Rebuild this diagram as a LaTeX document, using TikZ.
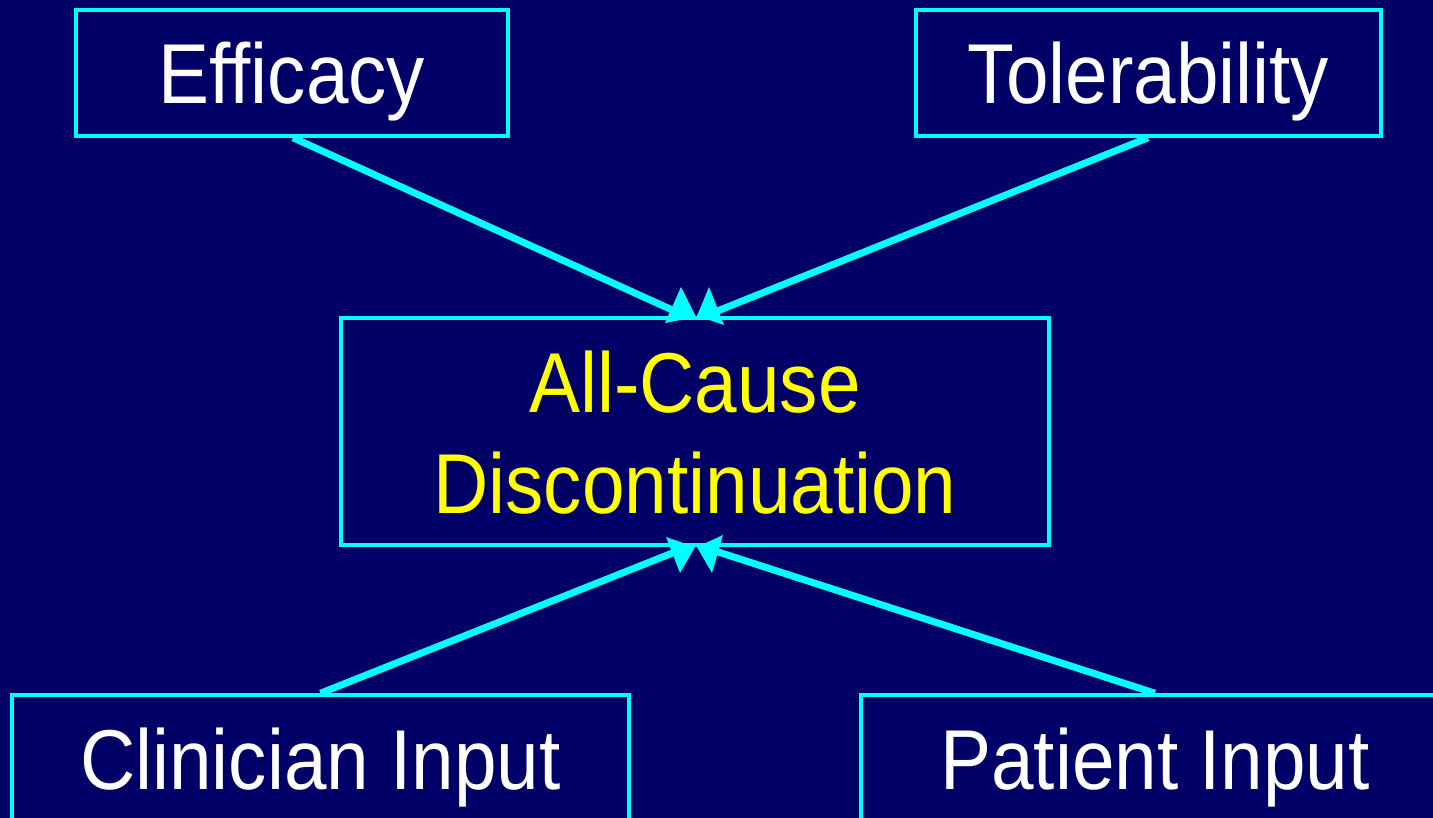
\documentclass[tikz,border=0pt]{standalone}
\usepackage{fontspec}
\setmainfont{Liberation Sans}[FakeStretch=0.9]
\definecolor{navy}{RGB}{0,0,102}
\definecolor{cyanl}{RGB}{0,255,255}
\definecolor{yell}{RGB}{255,255,0}
\begin{document}
\begin{tikzpicture}[x=1pt,y=-1pt,
  box/.style={draw=cyanl,line width=3.5pt,inner sep=0pt,text=white,
    font=\fontsize{85}{101}\selectfont,text height=61pt,text depth=0pt},
  link/.style={cyanl,line width=7pt},
  tipfill/.style={fill=cyanl}]
\fill[navy] (0,0) rectangle (1433,818);
\useasboundingbox (0,0) rectangle (1433,818);
\clip (0,0) rectangle (1433,818);
\node[box,minimum width=432,minimum height=126] (eff) at (292,73) {Efficacy};
\node[box,minimum width=465,minimum height=126] (tol) at (1148.5,73) {Tolerability};
\node[box,minimum width=708,minimum height=227,text=yell,align=center,text height=163pt] (acd) at (695,431.5) {All-Cause\\Discontinuation};
\node[box,minimum width=617,minimum height=128] (cli) at (320.5,759) {Clinician Input};
\node[box,minimum width=588,minimum height=128] (pat) at (1155,759) {Patient Input};
\coordinate (t1) at (681,314);
\coordinate (t2) at (710,314);
\coordinate (b1) at (680,550);
\coordinate (b2) at (712,550);
\draw[link] (eff.south -| 293,0) -- (t1);
\draw[link] (tol.south -| 1148,0) -- (t2);
\draw[link] (cli.north) -- (b1);
\draw[link] (pat.north) -- (b2);
\fill[tipfill] (681,287) -- (665,323) -- (696,317) -- cycle;
\fill[tipfill] (709,287) -- (697,316) -- (724,325) -- cycle;
\fill[tipfill] (666,537) -- (695,547) -- (680,573) -- cycle;
\fill[tipfill] (697,547) -- (723,535) -- (712,573) -- cycle;
\end{tikzpicture}
\end{document}
